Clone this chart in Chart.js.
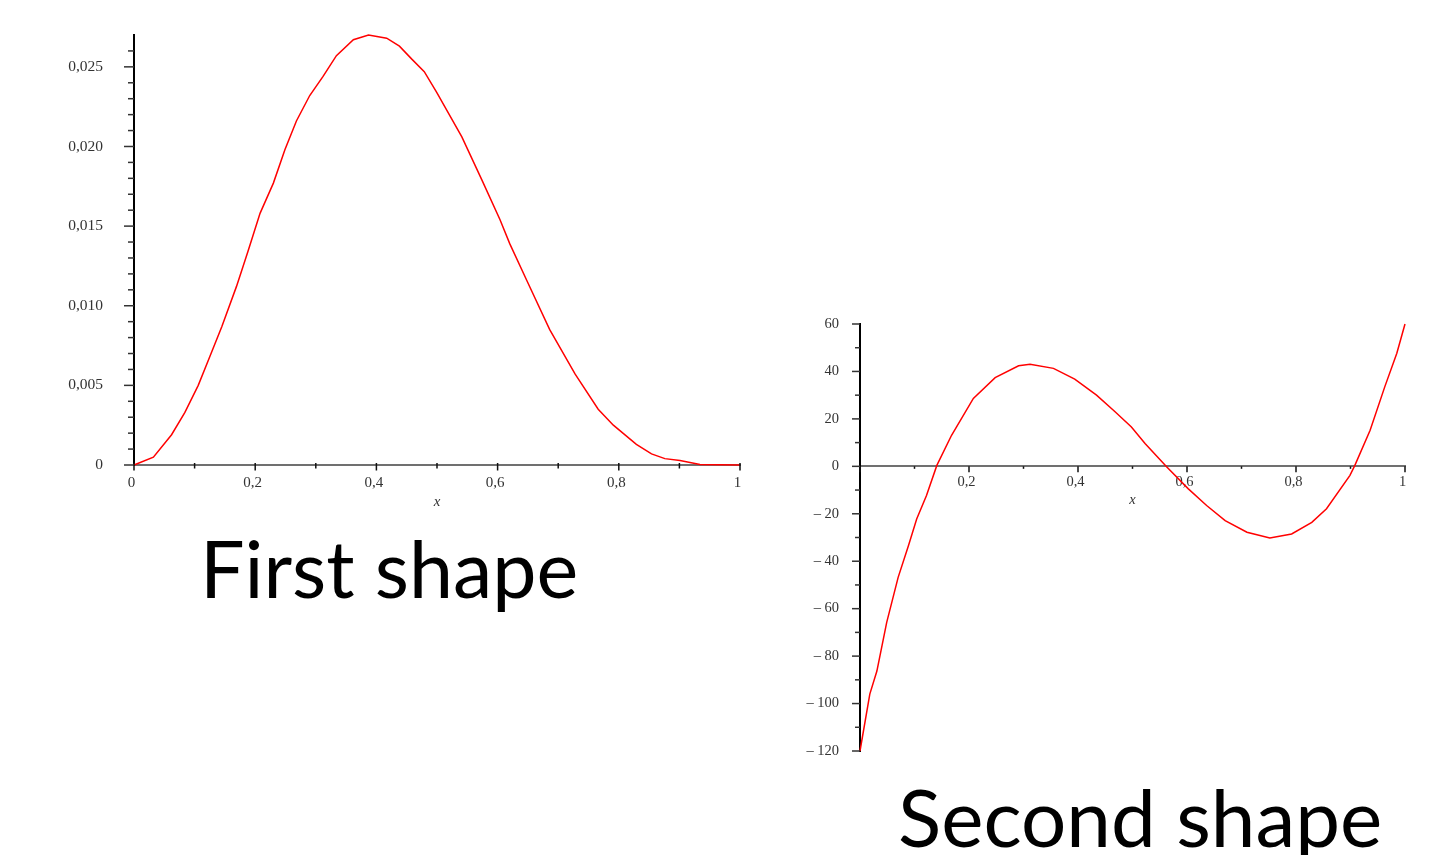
<!DOCTYPE html>
<html>
<head>
<meta charset="utf-8">
<title>First shape / Second shape</title>
<script src="https://cdn.jsdelivr.net/npm/chart.js@4.4.1/dist/chart.umd.min.js"></script>
<style>
  html, body { margin: 0; padding: 0; background: #fff; }
  body { width: 1445px; height: 855px; position: relative; overflow: hidden; }
  canvas { position: absolute; }
  #chart-first { left: 0; top: 0; }
  #chart-second { left: 760px; top: 280px; }
  .caption {
    position: absolute;
    font-family: Lato, "Open Sans", sans-serif;
    font-size: 79px;
    line-height: 80px;
    color: #000;
    white-space: nowrap;
  }
  #caption-first { left: 200px; top: 528px; }
  #caption-second { left: 898px; top: 776px; font-size: 80px; }
</style>
</head>
<body>
<canvas id="chart-first" width="770" height="530"></canvas>
<canvas id="chart-second" width="680" height="500"></canvas>
<div class="caption" id="caption-first">First shape</div>
<div class="caption" id="caption-second">Second shape</div>

<script>
// first shape
var firstX = [0, 0.032, 0.062, 0.084, 0.106, 0.125, 0.145, 0.169, 0.188, 0.208, 0.230, 0.249, 0.268,
  0.290, 0.312, 0.334, 0.362, 0.387, 0.417, 0.438, 0.458, 0.479, 0.4995, 0.541, 0.574, 0.604, 0.620,
  0.648, 0.686, 0.728, 0.766, 0.791, 0.829, 0.854, 0.876, 0.901, 0.934, 1];
var firstY = [0, 0.00049, 0.0019, 0.0033, 0.0050, 0.0068, 0.0087, 0.0112, 0.0134, 0.0158, 0.0177, 0.0198, 0.0216,
  0.0232, 0.0244, 0.0257, 0.0267, 0.0270, 0.0268, 0.0263, 0.0255, 0.0247, 0.0234, 0.0206, 0.0179, 0.0154, 0.0139,
  0.0116, 0.0085, 0.0057, 0.0035, 0.0025, 0.0013, 0.0007, 0.0004, 0.00028, 0.00003, 0];
var firstXTicks = [0, 0.2, 0.4, 0.6, 0.8, 1];
var firstXLabels = ["0", "0,2", "0,4", "0,6", "0,8", "1"];
var firstYTicks = [0, 0.005, 0.010, 0.015, 0.020, 0.025];
var firstYLabels = ["0", "0,005", "0,010", "0,015", "0,020", "0,025"];

// second shape
var secondX = [0, 0.018, 0.031, 0.049, 0.070, 0.089, 0.104, 0.122, 0.141, 0.168, 0.208, 0.248, 0.291,
  0.312, 0.355, 0.394, 0.434, 0.468, 0.498, 0.523, 0.563, 0.602, 0.636, 0.670, 0.710, 0.752, 0.792,
  0.829, 0.856, 0.899, 0.908, 0.936, 0.963, 0.985, 1];
var secondY = [-120, -96, -86.3, -65.8, -46.8, -33.4, -22.2, -12.3, 0.4, 13.1, 28.6, 37.4, 42.4,
  43, 41.3, 36.8, 30, 23, 16.6, 9.6, -0.3, -9.4, -16.5, -22.9, -27.8, -30.2, -28.5,
  -23.6, -17.9, -3.8, 0.4, 15.2, 33.6, 47.7, 60];
var secondXTicks = [0.2, 0.4, 0.6, 0.8, 1];
var secondXLabels = ["0,2", "0,4", "0,6", "0,8", "1"];
var secondYTicks = [-120, -100, -80, -60, -40, -20, 0, 20, 40, 60];
var secondYLabels = ["\u2013 120", "\u2013 100", "\u2013 80", "\u2013 60", "\u2013 40", "\u2013 20", "0", "20", "40", "60"];

var SERIF = "'Liberation Serif', 'DejaVu Serif', serif";

/**
 * Draws the small major/minor tick marks next to the axis lines (maple style).
 */
var tickMarks = {
  id: "tickMarks",
  afterDraw: function (chart, args, opts) {
    var ctx = chart.ctx;
    var x0 = chart.scales.x.getPixelForValue(0);
    var y0 = chart.scales.y.getPixelForValue(0);
    ctx.save();
    ["x", "y"].forEach(function (id) {
      var o = opts[id];
      if (!o) return;
      var scale = chart.scales[id];
      var n = Math.round((o.max - o.min) / o.step);
      ctx.strokeStyle = o.color;
      ctx.lineWidth = o.width;
      for (var k = 0; k <= n; k++) {
        var p = scale.getPixelForValue(o.min + k * o.step);
        var len = k % o.every === 0 ? o.major : o.minor;
        ctx.beginPath();
        if (id === "y") {
          ctx.moveTo(x0 - len, p);
          ctx.lineTo(x0, p);
        } else {
          ctx.moveTo(p, y0 - o.up);
          ctx.lineTo(p, y0 + len);
        }
        ctx.stroke();
      }
    });
    ctx.restore();
  }
};

function toPoints(xs, ys) {
  return xs.map(function (x, i) { return { x: x, y: ys[i] }; });
}

function fixedTicks(values) {
  return function (scale) {
    scale.ticks = values.map(function (v) { return { value: v }; });
  };
}

// fixed y axis width, and no extra label padding pushed into the layout
function fixedWidth(w) {
  return function (scale) {
    scale.width = w;
    scale.paddingTop = 0;
    scale.paddingBottom = 0;
  };
}

function redLine(xs, ys) {
  return {
    data: toPoints(xs, ys),
    borderColor: "#ff0000",
    borderWidth: 1.5,
    pointRadius: 0,
    tension: 0,
    fill: false,
    clip: false
  };
}

// first chart
new Chart(document.getElementById("chart-first"), {
  type: "line",
  data: { datasets: [redLine(firstX, firstY)] },
  options: {
    responsive: false,
    animation: false,
    events: [],
    layout: { padding: { left: 64, top: 35, right: 30, bottom: 19 } },
    plugins: {
      legend: { display: false },
      tooltip: { enabled: false },
      tickMarks: {
        y: { min: 0, max: 0.026, step: 0.001, every: 5, major: 10, minor: 6, color: "#333", width: 1.5 },
        x: { min: 0, max: 1, step: 0.1, every: 2, up: 2, major: 5.5, minor: 3.5, color: "#111", width: 1.5 }
      }
    },
    scales: {
      x: {
        type: "linear",
        min: 0,
        max: 1,
        afterBuildTicks: fixedTicks(firstXTicks),
        afterFit: function (scale) { scale.height = 46; },
        grid: { display: false, drawTicks: false },
        border: { color: "#707070", width: 2 },
        ticks: {
          padding: 9,
          labelOffset: -2.5,
          autoSkip: false,
          maxRotation: 0,
          color: "#333",
          font: { family: SERIF, size: 15 },
          callback: function (v, i) { return firstXLabels[i]; }
        },
        title: { display: true, text: "x", color: "#333", padding: 0, font: { family: SERIF, size: 15, style: "italic" } }
      },
      y: {
        type: "linear",
        min: 0,
        max: 0.027,
        afterBuildTicks: fixedTicks(firstYTicks),
        afterFit: fixedWidth(70),
        grid: { display: false, drawTicks: false },
        border: { color: "#000", width: 2 },
        ticks: {
          padding: 31,
          autoSkip: false,
          color: "#333",
          font: { family: SERIF, size: 15.5 },
          callback: function (v, i) { return firstYLabels[i]; }
        }
      }
    }
  },
  plugins: [tickMarks]
});

// second chart, x axis crosses at y = 0
new Chart(document.getElementById("chart-second"), {
  type: "line",
  data: { datasets: [redLine(secondX, secondY)] },
  options: {
    responsive: false,
    animation: false,
    events: [],
    layout: { padding: { left: 30, top: 44, right: 35, bottom: 29 } },
    plugins: {
      legend: { display: false },
      tooltip: { enabled: false },
      tickMarks: {
        y: { min: -120, max: 60, step: 10, every: 2, major: 8, minor: 5, color: "#333", width: 1.5 },
        x: { min: 0, max: 1, step: 0.1, every: 2, up: 0, major: 6, minor: 2.5, color: "#111", width: 1.5 }
      }
    },
    scales: {
      x: {
        type: "linear",
        min: 0,
        max: 1,
        position: { y: 0 },
        afterBuildTicks: fixedTicks(secondXTicks),
        afterFit: function (scale) { scale.height = 43; },
        grid: { display: false, drawTicks: false },
        border: { color: "#707070", width: 2 },
        ticks: {
          padding: 7.5,
          labelOffset: -2.5,
          autoSkip: false,
          maxRotation: 0,
          color: "#333",
          font: { family: SERIF, size: 14.5 },
          callback: function (v, i) { return secondXLabels[i]; }
        },
        title: { display: true, text: "x", color: "#333", padding: 0, font: { family: SERIF, size: 14.5, style: "italic" } }
      },
      y: {
        type: "linear",
        min: -120,
        max: 60,
        afterBuildTicks: fixedTicks(secondYTicks),
        afterFit: fixedWidth(70),
        grid: { display: false, drawTicks: false },
        border: { color: "#000", width: 2 },
        ticks: {
          padding: 21,
          autoSkip: false,
          color: "#333",
          font: { family: SERIF, size: 14.5 },
          callback: function (v, i) { return secondYLabels[i]; }
        }
      }
    }
  },
  plugins: [tickMarks]
});
</script>
</body>
</html>
